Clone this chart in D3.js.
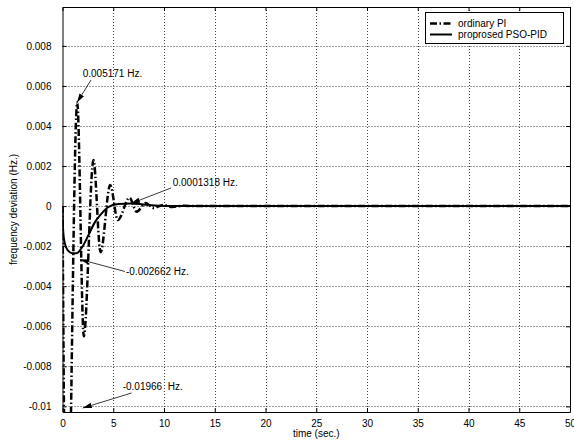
<!DOCTYPE html>
<html>
<head>
<meta charset="utf-8">
<script src="https://cdn.jsdelivr.net/npm/d3@7"></script>
<style>
body { margin: 0; background: #fff; }
text { font-family: "Liberation Sans Narrow", "Arial Narrow", Arial, sans-serif; font-size: 10px; fill: #000; }
</style>
</head>
<body>
<svg id="chart" width="574" height="444"></svg>
<script>
// ordinary PI response (extrema)
const piTime = [0, 0.4, 1.45, 2.1, 3.05, 3.75, 4.7, 5.45, 6.6, 7.3, 8.2, 9.0, 9.9, 10.8, 12, 13, 50];
const piDev  = [0, -0.01966, 0.005171, -0.0065, 0.0023, -0.0023, 0.00105, -0.0007, 0.00042, -0.00028, 0.00015, -0.0001, 0.00006, -0.00004, 0.00002, 0, 0];

// proposed PSO-PID response
const psoTime = [0, 0.05, 0.2, 0.5, 0.95, 1.4, 2.0, 2.6, 3.2, 3.8, 4.5, 5.5, 6.75, 8.0, 9.5, 11, 50];
const psoDev  = [0, -0.0011, -0.0018, -0.0022, -0.00235, -0.00235, -0.002, -0.0014, -0.0008, -0.0004, -0.00005, 0.0001, 0.00013, 0.00008, 0.00002, 0, 0];

const xTicks = [0, 5, 10, 15, 20, 25, 30, 35, 40, 45, 50];
const yTicks = [-0.01, -0.008, -0.006, -0.004, -0.002, 0, 0.002, 0.004, 0.006, 0.008];
const legendLabels = ["ordinary PI", "proprosed PSO-PID"];

// data tips
const tipLabels = ["0.005171 Hz.", "0.0001318 Hz.", "-0.002662 Hz.", "-0.01966  Hz."];
const tipTime = [1.43, 6.75, 1.72, 2.0];
const tipDev = [0.005171, 0.0001318, -0.002662, -0.01966];

const plotLeft = 62.5, plotRight = 570, plotTop = 7, plotBottom = 412;

const svg = d3.select("#chart");

const x = d3.scaleLinear().domain([0, 50]).range([plotLeft, plotRight]);
const y = d3.scaleLinear().domain([-0.01028, 0.00994]).range([plotBottom, plotTop]);

// grid
const grid = svg.append("g")
    .attr("stroke", "#444")
    .attr("stroke-width", 1)
    .attr("stroke-dasharray", "1,2");
grid.selectAll(".gx").data(xTicks.slice(1, -1)).enter().append("line")
    .attr("x1", d => Math.round(x(d)) + 0.5).attr("x2", d => Math.round(x(d)) + 0.5)
    .attr("y1", plotTop).attr("y2", plotBottom);
grid.selectAll(".gy").data(yTicks).enter().append("line")
    .attr("y1", d => Math.round(y(d)) + 0.5).attr("y2", d => Math.round(y(d)) + 0.5)
    .attr("x1", plotLeft).attr("x2", plotRight);

// curves
svg.append("clipPath").attr("id", "clip")
    .append("rect")
    .attr("x", plotLeft).attr("y", plotTop)
    .attr("width", plotRight - plotLeft).attr("height", plotBottom - plotTop);

const line = d3.line()
    .x(d => x(d[0]))
    .y(d => y(d[1]))
    .curve(d3.curveMonotoneX);

svg.append("path")
    .attr("clip-path", "url(#clip)")
    .attr("d", line(psoTime.map((t, i) => [t, psoDev[i]])))
    .attr("fill", "none")
    .attr("stroke", "#000")
    .attr("stroke-width", 2);

svg.append("path")
    .attr("clip-path", "url(#clip)")
    .attr("d", line(piTime.map((t, i) => [t, piDev[i]])))
    .attr("fill", "none")
    .attr("stroke", "#000")
    .attr("stroke-width", 2.5)
    .attr("stroke-dasharray", "7,2.5,1.5,2.5");

// axes (matlab style, ticks inward on every side)
const styleAxis = g => {
    g.select(".domain").attr("stroke", "#000");
    g.selectAll(".tick line").attr("stroke", "#000");
    g.selectAll("text").attr("font-family", null).attr("font-size", null);
};

svg.append("g")
    .attr("transform", `translate(0,${plotBottom})`)
    .call(d3.axisBottom(x).tickValues(xTicks).tickSizeInner(-4).tickSizeOuter(0).tickPadding(8))
    .call(styleAxis);

svg.append("g")
    .attr("transform", `translate(0,${plotTop})`)
    .call(d3.axisTop(x).tickValues(xTicks).tickSizeInner(-4).tickSizeOuter(0).tickFormat(""))
    .call(styleAxis);

svg.append("g")
    .attr("transform", `translate(${plotLeft},0)`)
    .call(d3.axisLeft(y).tickValues(yTicks).tickSizeInner(-4).tickSizeOuter(0).tickPadding(11).tickFormat(d => String(d)))
    .call(styleAxis);

svg.append("g")
    .attr("transform", `translate(${plotRight},0)`)
    .call(d3.axisRight(y).tickValues(yTicks).tickSizeInner(-4).tickSizeOuter(0).tickFormat(""))
    .call(styleAxis);

// axis labels
svg.append("text")
    .attr("x", (plotLeft + plotRight) / 2)
    .attr("y", 437)
    .attr("text-anchor", "middle")
    .text("time (sec.)");

svg.append("text")
    .attr("transform", `translate(13.5,${(plotTop + plotBottom) / 2}) rotate(-90)`)
    .attr("text-anchor", "middle")
    .attr("dy", "0.35em")
    .text("frequency deviation (Hz.)");

// data tip annotations
svg.append("defs").append("marker")
    .attr("id", "arrow")
    .attr("viewBox", "0 0 10 6")
    .attr("refX", 10).attr("refY", 3)
    .attr("markerUnits", "userSpaceOnUse")
    .attr("markerWidth", 9).attr("markerHeight", 5.5)
    .attr("orient", "auto")
    .append("path")
    .attr("d", "M0,0L10,3L0,6Z")
    .attr("fill", "#000");

const textPos = [[82.7, 77], [172.7, 186], [126, 275], [122.7, 390]];
const arrowFrom = [[91, 80], [171, 188], [125, 271.5], [131.5, 393]];

tipLabels.forEach((label, i) => {
    const tx = x(tipTime[i]);
    const ty = Math.min(y(tipDev[i]), plotBottom - 4);
    svg.append("line")
        .attr("x1", arrowFrom[i][0]).attr("y1", arrowFrom[i][1])
        .attr("x2", tx).attr("y2", ty)
        .attr("stroke", "#222")
        .attr("stroke-width", 0.9)
        .attr("marker-end", "url(#arrow)");
    svg.append("text")
        .attr("x", textPos[i][0])
        .attr("y", textPos[i][1])
        .attr("xml:space", "preserve")
        .style("white-space", "pre")
        .text(label);
});

// legend
const legend = svg.append("g");
legend.append("rect")
    .attr("x", 425.5).attr("y", 12.5)
    .attr("width", 138).attr("height", 31)
    .attr("fill", "#fff")
    .attr("stroke", "#000");

legendLabels.forEach((label, i) => {
    const ly = 23.5 + i * 11;
    legend.append("line")
        .attr("x1", 430).attr("x2", 452)
        .attr("y1", ly).attr("y2", ly)
        .attr("stroke", "#000")
        .attr("stroke-width", i === 0 ? 2.5 : 2)
        .attr("stroke-dasharray", i === 0 ? "7,2.5,1.5,2.5" : null);
    legend.append("text")
        .attr("x", 458)
        .attr("y", ly)
        .attr("dy", "0.35em")
        .text(label);
});
</script>
</body>
</html>
